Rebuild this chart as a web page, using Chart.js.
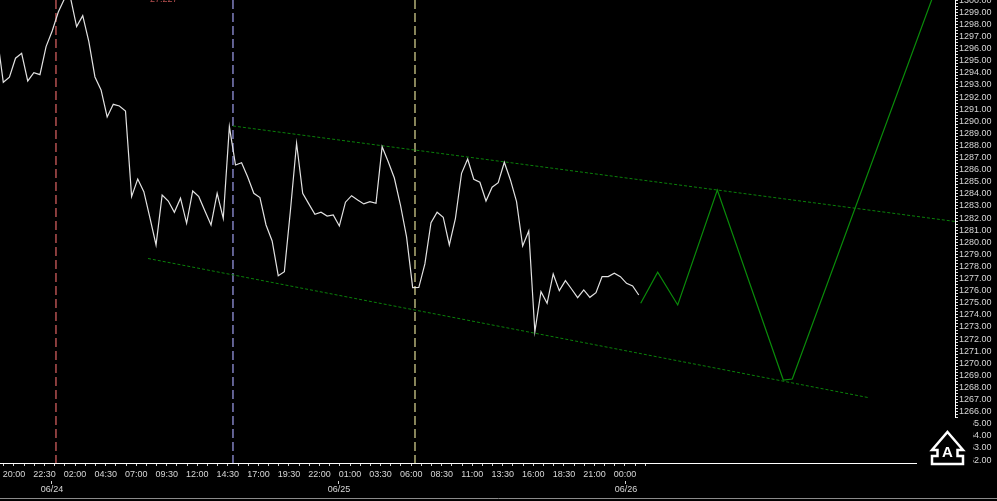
<!DOCTYPE html>
<html>
<head>
<meta charset="utf-8">
<script src="https://cdn.jsdelivr.net/npm/chart.js@4.4.1/dist/chart.umd.min.js"></script>
<style>
  html, body { margin: 0; padding: 0; background: #000; overflow: hidden; }
  canvas { display: block; }
</style>
</head>
<body>
<canvas id="grafico" width="997" height="501"></canvas>
<script>
// ─── dados (x = índice da barra de 30 min) ───────────────────
const precos = [
  1296.97, 1293.22, 1293.64, 1295.21, 1295.62, 1293.33, 1294.02, 1293.85, 1296.17, 1297.46,
  1299.03, 1300.11, 1300.20, 1297.82, 1298.73, 1296.58, 1293.66, 1292.59, 1290.36, 1291.40,
  1291.26, 1290.85, 1283.77, 1285.23, 1284.18, 1282.01, 1279.78, 1283.91, 1283.41, 1282.48,
  1283.64, 1281.57, 1284.24, 1283.77, 1282.59, 1281.43, 1284.05, 1281.98, 1289.55, 1286.39,
  1286.58, 1285.40, 1284.05, 1283.69, 1281.43, 1280.11, 1277.24, 1277.57, 1282.67, 1288.18,
  1284.05, 1283.17, 1282.31, 1282.48, 1282.17, 1282.26, 1281.35, 1283.31, 1283.85, 1283.50,
  1283.17, 1283.36, 1283.22, 1287.90, 1286.66, 1285.31, 1283.08, 1280.44, 1276.25, 1276.26,
  1278.21, 1281.62, 1282.48, 1282.07, 1279.78, 1281.98, 1285.70, 1286.88, 1285.21, 1284.96,
  1283.41, 1284.55, 1284.93, 1286.61, 1285.15, 1283.36, 1279.69, 1280.93, 1272.61, 1275.92,
  1274.96, 1277.38, 1276.00, 1276.83, 1276.14, 1275.42, 1276.06, 1275.45, 1275.83, 1277.16,
  1277.16, 1277.44, 1277.16, 1276.61, 1276.39, 1275.64
];

// projeção (linha verde)
const projX = [105.32, 108.10, 111.38, 117.86, 128.66, 130.13, 155.12];
const projY = [1274.96, 1277.52, 1274.82, 1284.32, 1268.62, 1268.70, 1303.02];

// canal (tracejado verde)
const canalSupX = [38.59, 156.76];
const canalSupY = [1289.61, 1281.72];
const canalInfX = [24.68, 142.52];
const canalInfY = [1278.66, 1267.17];

// linhas verticais (vermelha, azul, amarela)
const verticaisX = [9.62, 38.59, 68.38];

const rotulosHora = ['20:00', '22:30', '02:00', '04:30', '07:00', '09:30', '12:00', '14:30', '17:00', '19:30',
  '22:00', '01:00', '03:30', '06:00', '08:30', '11:00', '13:30', '16:00', '18:30', '21:00', '00:00'];
const rotulosData = ['06/24', '06/25', '06/26'];
const posDatas = [8.97, 55.94, 102.9];

const X_MIN = 0.46, X_MAX = 156.76;
const Y_MIN = 1261.76, Y_MAX = 1300.02;

// ─── ticks do eixo x: um rótulo a cada 5 barras, marcas a cada 5/3 ───
const posHoras = rotulosHora.map((_, j) => 2.75 + 5 * j);
const marcasX = [];
for (let m = -1; m <= 62; m++) marcasX.push(2.75 + (5 / 3) * m);

const fonte = { family: '"Liberation Sans", Arial, sans-serif', size: 9 };
const corTexto = '#d6d6d6';

function pares(xs, ys) { return xs.map((x, i) => ({ x, y: ys[i] })); }

function vertical(x, cor) {
  return {
    data: [{ x, y: Y_MAX }, { x, y: Y_MIN }],
    borderColor: cor, borderWidth: 1.2, borderDash: [9, 4], pointRadius: 0
  };
}

const extras = {
  id: 'extras',
  afterDraw(chart) {
    const ctx = chart.ctx;
    ctx.save();
    // texto vermelho cortado no topo
    ctx.fillStyle = '#b85050';
    ctx.font = '9px "Liberation Sans", Arial, sans-serif';
    ctx.textBaseline = 'alphabetic';
    ctx.fillText('27.227', 150, 2);

    // caixa preta do logo
    ctx.fillStyle = '#000';
    ctx.fillRect(917, 418, 56, 54);
    ctx.beginPath();
    ctx.moveTo(947.5, 432);
    ctx.lineTo(963, 450); ctx.lineTo(957.5, 450); ctx.lineTo(957.5, 456);
    ctx.lineTo(963, 456); ctx.lineTo(963, 464); ctx.lineTo(932, 464);
    ctx.lineTo(932, 456); ctx.lineTo(937.5, 456); ctx.lineTo(937.5, 450);
    ctx.lineTo(932, 450); ctx.closePath();
    ctx.strokeStyle = '#fff'; ctx.lineWidth = 2.5; ctx.stroke();
    ctx.fillStyle = '#fff';
    ctx.font = 'bold 15px "Liberation Sans", Arial, sans-serif';
    ctx.textAlign = 'center'; ctx.textBaseline = 'middle';
    ctx.fillText('A', 947.5, 453);

    // moldura inferior
    ctx.strokeStyle = '#8a8a8a'; ctx.lineWidth = 1;
    ctx.beginPath(); ctx.moveTo(0, 498.5); ctx.lineTo(997, 498.5); ctx.stroke();
    ctx.restore();
  }
};

new Chart(document.getElementById('grafico'), {
  type: 'line',
  data: {
    datasets: [
      { data: precos.map((y, x) => ({ x, y })), borderColor: '#e2e2e2', borderWidth: 1.2, pointRadius: 0, tension: 0 },
      { data: pares(projX, projY), borderColor: '#0a8c0a', borderWidth: 1.2, pointRadius: 0 },
      { data: pares(canalSupX, canalSupY), borderColor: '#0a800a', borderWidth: 1, borderDash: [3, 2], pointRadius: 0 },
      { data: pares(canalInfX, canalInfY), borderColor: '#0a800a', borderWidth: 1, borderDash: [3, 2], pointRadius: 0 },
      vertical(verticaisX[0], '#e06464'),
      vertical(verticaisX[1], '#a0a0f0'),
      vertical(verticaisX[2], '#e0dc96')
    ]
  },
  options: {
    responsive: false, animation: false,
    layout: { padding: 0 },
    plugins: { legend: { display: false }, tooltip: { enabled: false } },
    scales: {
      x: {
        type: 'linear', position: 'bottom', min: X_MIN, max: X_MAX, weight: 0,
        afterBuildTicks: s => { s.ticks = marcasX.map(value => ({ value })); },
        afterFit: s => { s.height = 18; s.paddingLeft = 0; s.paddingRight = 0; },
        ticks: {
          autoSkip: false, maxRotation: 0, padding: 3, color: corTexto, font: fonte,
          callback: v => {
            const j = posHoras.findIndex(p => Math.abs(p - v) < 0.01);
            return j >= 0 ? rotulosHora[j] : '';
          }
        },
        grid: { drawOnChartArea: false, tickLength: 3, color: '#cfcfcf' },
        border: { display: true, color: '#ffffff', width: 1 }
      },
      x2: {
        type: 'linear', position: 'bottom', min: X_MIN, max: X_MAX, weight: 1,
        afterBuildTicks: s => { s.ticks = posDatas.map(value => ({ value })); },
        afterFit: s => { s.height = 20; s.paddingLeft = 0; s.paddingRight = 0; },
        ticks: {
          autoSkip: false, maxRotation: 0, padding: 0, color: corTexto, font: fonte,
          callback: v => {
            const j = posDatas.findIndex(p => Math.abs(p - v) < 0.01);
            return j >= 0 ? rotulosData[j] : '';
          }
        },
        grid: { drawOnChartArea: false, tickLength: 3, color: '#cfcfcf' },
        border: { display: false }
      },
      y: {
        type: 'linear', position: 'right', min: Y_MIN, max: Y_MAX,
        afterFit: s => { s.width = 42; s.paddingTop = 0; s.paddingBottom = 0; },
        ticks: {
          stepSize: 0.25, includeBounds: false, autoSkip: false, padding: 1,
          color: corTexto, font: fonte,
          callback: v => Math.abs(v - Math.round(v)) < 1e-6 ? v.toFixed(2) : ''
        },
        grid: { drawOnChartArea: false, tickLength: 3, color: '#e0e0e0' },
        border: { display: true, color: '#ffffff', width: 1 }
      }
    }
  },
  plugins: [extras]
});
</script>
</body>
</html>
